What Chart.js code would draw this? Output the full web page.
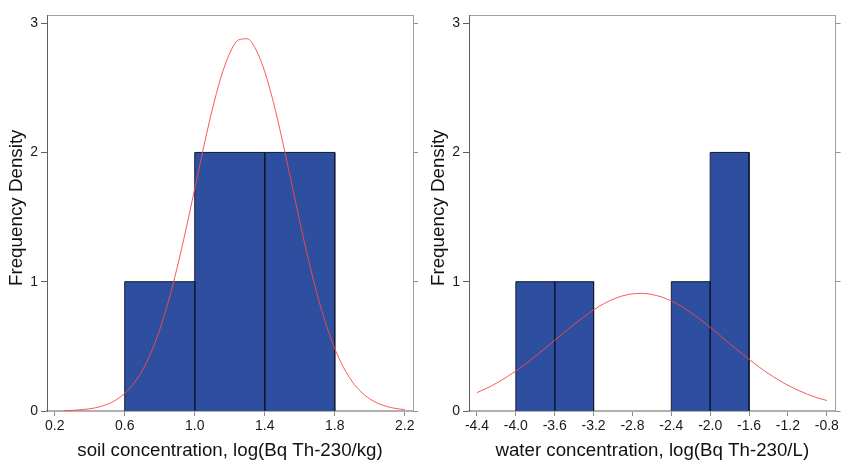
<!DOCTYPE html>
<html>
<head>
<meta charset="utf-8">
<script src="https://cdn.jsdelivr.net/npm/chart.js@4.4.1/dist/chart.umd.min.js"></script>
<style>
  html, body { margin: 0; padding: 0; background: #fff; }
  #wrap { position: relative; width: 841px; height: 462px; overflow: hidden; }
  #soil { position: absolute; left: 0; top: 0; }
  #water { position: absolute; left: 420px; top: 0; }
</style>
</head>
<body>
<div id="wrap">
  <canvas id="soil" width="420" height="462"></canvas>
  <canvas id="water" width="421" height="462"></canvas>
</div>
<script>
// ---- soil histogram (log Bq Th-230/kg) ----
const soilBinLow  = [0.6, 1.0, 1.4];
const soilBinHigh = [1.0, 1.4, 1.8];
const soilDensity = [1, 2, 2];
const soilTicks   = [0.2, 0.6, 1.0, 1.4, 1.8, 2.2];
const soilCurveX  = [0.25, 0.30, 0.35, 0.40, 0.45, 0.50, 0.55, 0.60, 0.65, 0.70,
                     0.75, 0.80, 0.85, 0.90, 0.95, 1.00, 1.05, 1.10, 1.15, 1.20,
                     1.25, 1.30, 1.35, 1.40, 1.45, 1.50, 1.55, 1.60, 1.65, 1.70,
                     1.75, 1.80, 1.85, 1.90, 1.95, 2.00, 2.05, 2.10, 2.15, 2.20];
const soilCurveY  = [0.003, 0.005, 0.010, 0.017, 0.030, 0.052, 0.085, 0.136, 0.209, 0.312,
                     0.451, 0.629, 0.850, 1.111, 1.405, 1.719, 2.035, 2.330, 2.582, 2.767,
                     2.870, 2.879, 2.795, 2.625, 2.385, 2.096, 1.783, 1.467, 1.168, 0.899,
                     0.670, 0.483, 0.337, 0.227, 0.148, 0.094, 0.057, 0.034, 0.019, 0.011];

// ---- water histogram (log Bq Th-230/L) ----
const waterBinLow  = [-4.0, -3.6, -2.4, -2.0];
const waterBinHigh = [-3.6, -3.2, -2.0, -1.6];
const waterDensity = [1, 1, 1, 2];
const waterTicks   = [-4.4, -4.0, -3.6, -3.2, -2.8, -2.4, -2.0, -1.6, -1.2, -0.8];
const waterCurveX  = [-4.4, -4.3, -4.2, -4.1, -4.0, -3.9, -3.8, -3.7, -3.6, -3.5,
                      -3.4, -3.3, -3.2, -3.1, -3.0, -2.9, -2.8, -2.7, -2.6, -2.5,
                      -2.4, -2.3, -2.2, -2.1, -2.0, -1.9, -1.8, -1.7, -1.6, -1.5,
                      -1.4, -1.3, -1.2, -1.1, -1.0, -0.9, -0.8];
const waterCurveY  = [0.142, 0.176, 0.215, 0.260, 0.310, 0.364, 0.422, 0.484, 0.547, 0.610,
                      0.671, 0.729, 0.782, 0.828, 0.864, 0.891, 0.906, 0.910, 0.901, 0.882,
                      0.851, 0.810, 0.762, 0.707, 0.647, 0.585, 0.521, 0.459, 0.399, 0.342,
                      0.289, 0.242, 0.199, 0.162, 0.130, 0.103, 0.081];

const densityTicks = [0, 1, 2, 3];

const FONT = '"Liberation Sans", Arial, Helvetica, sans-serif';
const BAR_FILL = '#2e4fa0';
const BAR_EDGE = '#121a30';
const CURVE = 'rgba(255, 70, 70, 0.9)';

// each bin becomes an outlined block filled down to zero
function binDatasets(low, high, heights) {
  return heights.map((h, i) => ({
    data: [{x: low[i], y: 0}, {x: low[i], y: h}, {x: high[i], y: h}, {x: high[i], y: 0}],
    showLine: true,
    fill: 'origin',
    backgroundColor: BAR_FILL,
    borderColor: BAR_EDGE,
    borderWidth: 1,
    pointRadius: 0,
    tension: 0,
    order: 1
  }));
}

function curveDataset(xs, ys) {
  return {
    data: xs.map((x, i) => ({x: x, y: ys[i]})),
    showLine: true,
    fill: false,
    borderColor: CURVE,
    borderWidth: 1,
    pointRadius: 0,
    cubicInterpolationMode: 'monotone',
    order: 0
  };
}

function fixedTicks(list) {
  return (scale) => { scale.ticks = list.map(v => ({value: v})); };
}

function makePanel(canvas, cfg) {
  return new Chart(canvas, {
    type: 'scatter',
    data: {
      datasets: [curveDataset(cfg.curveX, cfg.curveY)].concat(binDatasets(cfg.low, cfg.high, cfg.heights))
    },
    options: {
      responsive: false,
      animation: false,
      devicePixelRatio: 1,
      layout: { padding: { top: 15, left: 0, right: 0, bottom: 0 } },
      plugins: { legend: { display: false }, tooltip: { enabled: false } },
      scales: {
        x: {
          type: 'linear', position: 'bottom',
          min: cfg.xMin, max: cfg.xMax,
          afterBuildTicks: fixedTicks(cfg.xTicks),
          afterFit: (s) => { s.height = 51; },
          border: { color: '#b0b0b0', width: 2 },
          grid: { drawOnChartArea: false, tickLength: 5, tickColor: '#8a8a8a' },
          ticks: {
            autoSkip: false, maxRotation: 0, padding: 2, color: '#1a1a1a',
            font: { family: FONT, size: 14 },
            callback: (v) => Number(v).toFixed(1)
          },
          title: {
            display: true, text: cfg.xTitle, color: '#111',
            font: { family: FONT, size: 18.7 },
            padding: { top: 0, bottom: 0 }
          }
        },
        xTop: {
          type: 'linear', position: 'top',
          min: cfg.xMin, max: cfg.xMax,
          afterFit: (s) => { s.height = 0; },
          border: { color: '#a0a0a0', width: 1 },
          grid: { display: false, drawTicks: false },
          ticks: { display: false }
        },
        y: {
          type: 'linear', position: 'left',
          min: 0, max: 3.063,
          afterBuildTicks: fixedTicks(densityTicks),
          afterFit: (s) => { s.width = cfg.yWidth; },
          border: { color: '#606060', width: 1 },
          grid: { drawOnChartArea: false, tickLength: 6, tickColor: '#606060' },
          ticks: { padding: 3, color: '#1a1a1a', font: { family: FONT, size: 14 } },
          title: {
            // leading spaces lift the rotated label a little above the axis middle
            display: true, text: '  Frequency Density', color: '#111',
            font: { family: FONT, size: 18.8 },
            padding: { top: cfg.yTitlePad, bottom: 0 }
          }
        },
        yRight: {
          type: 'linear', position: 'right',
          min: 0, max: 3.063,
          afterBuildTicks: fixedTicks(densityTicks),
          afterFit: (s) => { s.width = cfg.rightWidth; },
          border: { color: '#a0a0a0', width: 1 },
          grid: { drawOnChartArea: false, tickLength: 5, tickColor: '#909090' },
          ticks: { display: false }
        }
      }
    }
  });
}

makePanel(document.getElementById('soil'), {
  low: soilBinLow, high: soilBinHigh, heights: soilDensity,
  curveX: soilCurveX, curveY: soilCurveY,
  xTicks: soilTicks, xMin: 0.156, xMax: 2.247,
  xTitle: 'soil concentration, log(Bq Th-230/kg)',
  yWidth: 47, yTitlePad: 5.5, rightWidth: 7
});

makePanel(document.getElementById('water'), {
  low: waterBinLow, high: waterBinHigh, heights: waterDensity,
  curveX: waterCurveX, curveY: waterCurveY,
  xTicks: waterTicks, xMin: -4.482, xMax: -0.71,
  xTitle: 'water concentration, log(Bq Th-230/L)',
  yWidth: 49, yTitlePad: 8, rightWidth: 5
});
</script>
</body>
</html>
